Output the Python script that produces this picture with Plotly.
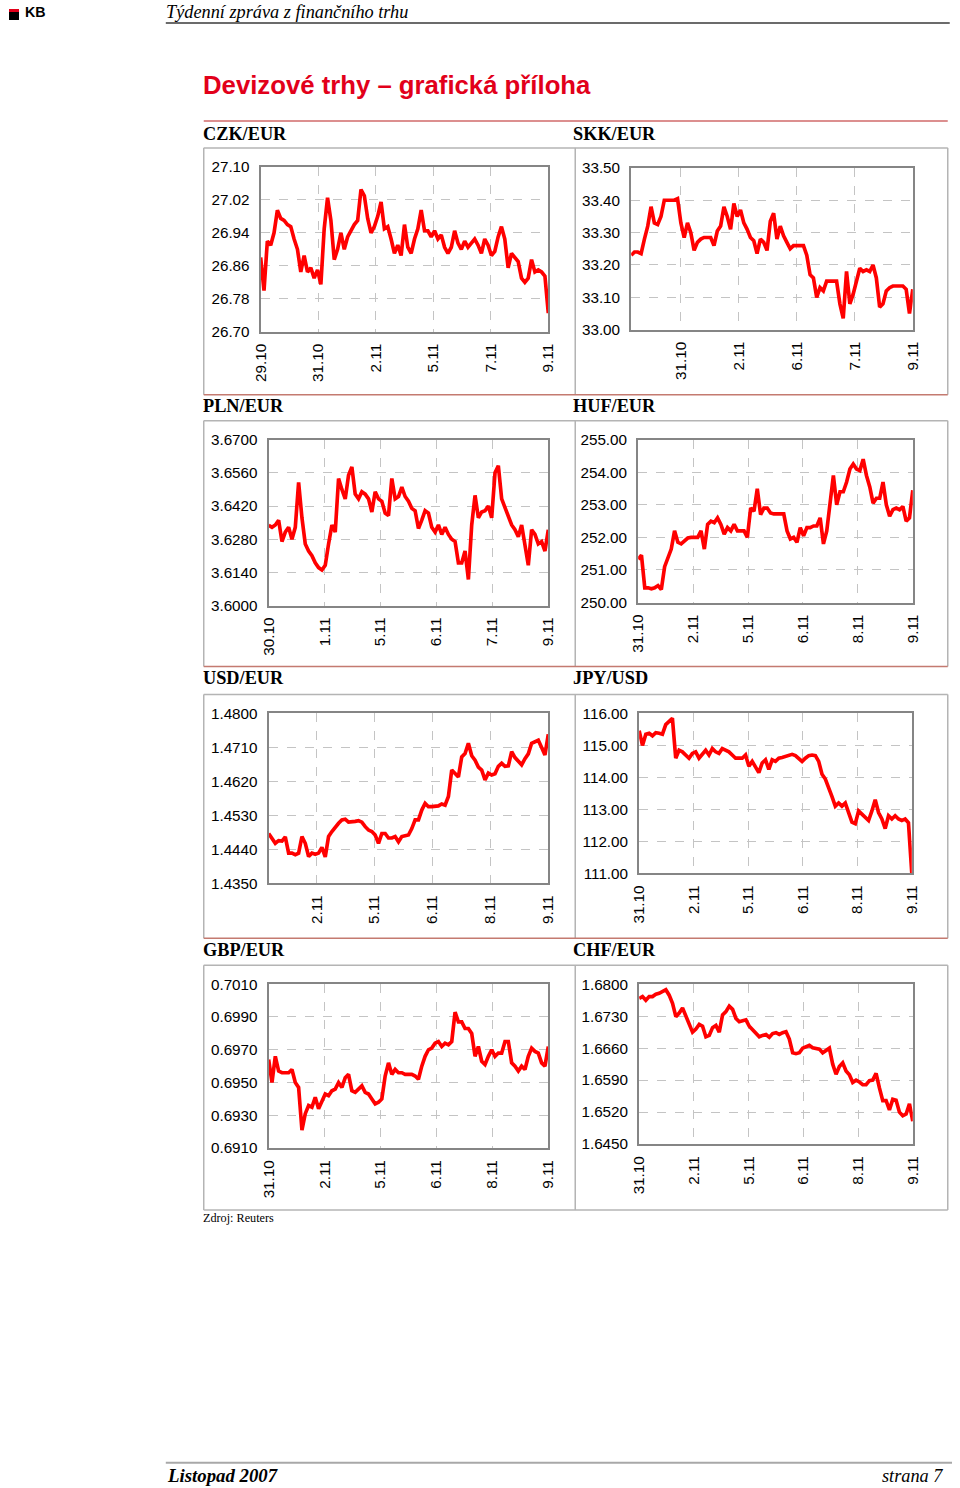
import numpy as np
import plotly.graph_objects as go

# The figure is 960x1488; the captured page carries an 8px border and is scaled
# back to 960x1488, so layout positions below are given in page pixels and mapped.
W, H = 960, 1488
OFF = 8
SX = (W + 2 * OFF) / W
SY = (H + 2 * OFF) / H
K = SX  # size factor for fonts / widths

# ---------------- data ----------------
CZK_TICKS = ["29.10", "31.10", "2.11", "5.11", "7.11", "9.11"]
CZK_Y = [26.70, 26.78, 26.86, 26.94, 27.02, 27.10]
CZK = [26.88, 26.80, 26.92, 26.91, 26.94, 26.995, 26.975, 26.97, 26.96, 26.955,
       26.925, 26.90, 26.845, 26.885, 26.845, 26.855, 26.83, 26.85, 26.815, 26.95,
       27.025, 26.97, 26.875, 26.90, 26.94, 26.90, 26.93, 26.945, 26.96, 26.97,
       27.045, 27.03, 26.975, 26.94, 26.955, 26.98, 27.015, 26.95, 26.955, 26.925,
       26.89, 26.91, 26.885, 26.96, 26.905, 26.89, 26.925, 26.95, 26.995, 26.945,
       26.945, 26.93, 26.945, 26.925, 26.935, 26.905, 26.89, 26.905, 26.945, 26.915,
       26.90, 26.92, 26.905, 26.915, 26.925, 26.91, 26.89, 26.925, 26.91, 26.885,
       26.895, 26.93, 26.955, 26.925, 26.855, 26.89, 26.88, 26.87, 26.83, 26.82,
       26.83, 26.875, 26.845, 26.85, 26.845, 26.835, 26.745]

SKK_TICKS = ["31.10", "2.11", "6.11", "7.11", "9.11"]
SKK_Y = [33.00, 33.10, 33.20, 33.30, 33.40, 33.50]
SKK = [33.23, 33.24, 33.24, 33.235, 33.28, 33.32, 33.38, 33.33, 33.325, 33.35,
       33.40, 33.40, 33.40, 33.40, 33.405, 33.33, 33.285, 33.33, 33.30, 33.245,
       33.27, 33.28, 33.285, 33.285, 33.285, 33.26, 33.305, 33.32, 33.38, 33.35,
       33.31, 33.39, 33.35, 33.37, 33.33, 33.31, 33.285, 33.275, 33.235, 33.28,
       33.27, 33.245, 33.335, 33.36, 33.28, 33.32, 33.29, 33.27, 33.25, 33.26,
       33.26, 33.26, 33.26, 33.23, 33.17, 33.16, 33.10, 33.13, 33.12, 33.15,
       33.15, 33.15, 33.15, 33.08, 33.035, 33.18, 33.08, 33.11, 33.15, 33.19,
       33.18, 33.185, 33.18, 33.20, 33.16, 33.07, 33.08, 33.12, 33.13, 33.135,
       33.135, 33.135, 33.135, 33.125, 33.05, 33.125]

PLN_TICKS = ["30.10", "1.11", "5.11", "6.11", "7.11", "9.11"]
PLN_Y = [3.6000, 3.6140, 3.6280, 3.6420, 3.6560, 3.6700]
PLN = [3.6339, 3.633, 3.634, 3.636, 3.627, 3.631, 3.633, 3.628, 3.633, 3.652,
       3.637, 3.626, 3.623, 3.621, 3.618, 3.616, 3.615, 3.617, 3.626, 3.634,
       3.631, 3.6536, 3.649, 3.645, 3.655, 3.6585, 3.647, 3.645, 3.648, 3.647,
       3.645, 3.6395, 3.648, 3.645, 3.644, 3.639, 3.638, 3.6536, 3.645, 3.646,
       3.650, 3.646, 3.644, 3.641, 3.640, 3.6325, 3.636, 3.640, 3.639, 3.633,
       3.631, 3.634, 3.630, 3.633, 3.630, 3.628, 3.627, 3.618, 3.618, 3.623,
       3.611, 3.634, 3.6465, 3.637, 3.6395, 3.640, 3.642, 3.637, 3.656, 3.659,
       3.645, 3.641, 3.638, 3.634, 3.632, 3.629, 3.634, 3.625, 3.617, 3.632,
       3.630, 3.626, 3.627, 3.623, 3.632]

HUF_TICKS = ["31.10", "2.11", "5.11", "6.11", "8.11", "9.11"]
HUF_Y = [250.0, 251.0, 252.0, 253.0, 254.0, 255.0]
HUF = [251.33, 251.45, 250.45, 250.45, 250.42, 250.45, 250.52, 250.40, 251.10, 251.35,
       251.64, 252.20, 251.85, 251.80, 251.90, 251.98, 252.00, 252.00, 252.00, 252.20,
       251.64, 252.40, 252.50, 252.45, 252.60, 252.40, 252.10, 252.30, 252.20, 252.40,
       252.20, 252.20, 252.20, 252.00, 252.90, 252.80, 253.49, 252.70, 252.90, 252.90,
       252.75, 252.72, 252.72, 252.72, 252.72, 252.20, 251.95, 252.00, 251.85, 252.30,
       252.05, 252.30, 252.30, 252.35, 252.35, 252.60, 251.80, 252.20, 253.10, 253.90,
       253.00, 253.40, 253.40, 253.70, 254.10, 254.25, 254.10, 254.05, 254.40, 253.90,
       253.55, 253.05, 253.20, 253.20, 253.70, 253.00, 252.65, 252.85, 252.90, 252.85,
       252.95, 252.50, 252.60, 253.45]

USD_TICKS = ["2.11", "5.11", "6.11", "8.11", "9.11"]
USD_Y = [1.4350, 1.4440, 1.4530, 1.4620, 1.4710, 1.4800]
USD = [1.4482, 1.4469, 1.4456, 1.4463, 1.4462, 1.4473, 1.4430, 1.4430, 1.4426, 1.4430,
       1.4474, 1.4456, 1.4421, 1.4430, 1.4427, 1.4430, 1.4445, 1.4420, 1.4474, 1.4487,
       1.4500, 1.4509, 1.4518, 1.4520, 1.4512, 1.4512, 1.4514, 1.4516, 1.4512, 1.4500,
       1.4491, 1.4487, 1.4478, 1.4456, 1.4482, 1.4482, 1.4470, 1.4470, 1.4474, 1.4460,
       1.4474, 1.4476, 1.4478, 1.4495, 1.4518, 1.4518, 1.4544, 1.4562, 1.4553, 1.4553,
       1.4555, 1.4555, 1.4560, 1.4557, 1.4580, 1.4650, 1.4641, 1.4632, 1.4685, 1.4694,
       1.4721, 1.4688, 1.4676, 1.4658, 1.4650, 1.4624, 1.4642, 1.4637, 1.4640, 1.4660,
       1.4668, 1.4660, 1.4661, 1.4699, 1.4683, 1.4672, 1.4664, 1.4680, 1.4693, 1.4721,
       1.4725, 1.4729, 1.4710, 1.4690, 1.4745]

JPY_TICKS = ["31.10", "2.11", "5.11", "6.11", "8.11", "9.11"]
JPY_Y = [111.0, 112.0, 113.0, 114.0, 115.0, 116.0]
JPY = [115.46, 115.00, 115.35, 115.38, 115.30, 115.40, 115.38, 115.35, 115.65, 115.75,
       115.85, 114.60, 114.85, 114.80, 114.70, 114.60, 114.75, 114.80, 114.60, 114.75,
       114.85, 114.70, 114.90, 114.80, 114.75, 114.90, 114.85, 114.80, 114.70, 114.60,
       114.60, 114.60, 114.70, 114.35, 114.50, 114.30, 114.15, 114.45, 114.55, 114.25,
       114.55, 114.50, 114.60, 114.62, 114.66, 114.70, 114.72, 114.68, 114.60, 114.50,
       114.60, 114.68, 114.70, 114.68, 114.50, 114.10, 113.95, 113.70, 113.40, 113.10,
       113.20, 113.10, 113.20, 112.90, 112.60, 112.55, 112.95, 112.85, 112.75, 112.65,
       112.95, 113.30, 112.90, 112.70, 112.40, 112.80, 112.70, 112.80, 112.70, 112.65,
       112.70, 112.58, 111.00]

GBP_TICKS = ["31.10", "2.11", "5.11", "6.11", "8.11", "9.11"]
GBP_Y = [0.6910, 0.6930, 0.6950, 0.6970, 0.6990, 0.7010]
GBP = [0.6964, 0.6950, 0.6966, 0.6957, 0.6956, 0.6956, 0.6956, 0.6958, 0.6950, 0.6947,
       0.6921, 0.6931, 0.6936, 0.6935, 0.6941, 0.6934, 0.6938, 0.6943, 0.6942, 0.6945,
       0.6946, 0.6950, 0.6947, 0.6953, 0.6955, 0.6945, 0.6944, 0.6946, 0.6948, 0.6944,
       0.6943, 0.6940, 0.6937, 0.6938, 0.6940, 0.6954, 0.6962, 0.6955, 0.6958, 0.6956,
       0.6956, 0.6955, 0.6955, 0.6955, 0.6954, 0.6952, 0.6960, 0.6966, 0.6970, 0.6971,
       0.6974, 0.6975, 0.6972, 0.6974, 0.6973, 0.6975, 0.6993, 0.6987, 0.6987, 0.6983,
       0.6983, 0.6980, 0.6966, 0.6972, 0.6963, 0.6961, 0.6966, 0.6970, 0.6966, 0.6968,
       0.6968, 0.6975, 0.6975, 0.6962, 0.6960, 0.6957, 0.6960, 0.6958, 0.6966, 0.6971,
       0.6969, 0.6968, 0.6962, 0.6960, 0.6972]

CHF_TICKS = ["31.10", "2.11", "5.11", "6.11", "8.11", "9.11"]
CHF_Y = [1.6450, 1.6520, 1.6590, 1.6660, 1.6730, 1.6800]
CHF = [1.6769, 1.6773, 1.6765, 1.6773, 1.6773, 1.6778, 1.6780, 1.6783, 1.6788, 1.6776,
       1.6758, 1.6729, 1.6737, 1.6748, 1.6730, 1.6710, 1.6695, 1.6702, 1.6712, 1.6708,
       1.6685, 1.6688, 1.6705, 1.6710, 1.6695, 1.6733, 1.6740, 1.6752, 1.6745, 1.6725,
       1.6718, 1.6720, 1.6722, 1.6708, 1.6700, 1.6693, 1.6685, 1.6688, 1.6690, 1.6684,
       1.6692, 1.6694, 1.6690, 1.6694, 1.6696, 1.6680, 1.6650, 1.6648, 1.6650, 1.6660,
       1.6664, 1.6666, 1.6661, 1.6660, 1.6658, 1.6650, 1.6654, 1.6660, 1.6625, 1.6603,
       1.6620, 1.6628, 1.6610, 1.6602, 1.6585, 1.6590, 1.6586, 1.6580, 1.6580, 1.6589,
       1.6590, 1.6605, 1.6573, 1.6545, 1.6545, 1.6525, 1.6548, 1.6546, 1.6520, 1.6512,
       1.6516, 1.6538, 1.6500]

# (name, values, x-start, tick labels, y ticks, y format, plot box in page px [x0,x1,y0,y1])
charts = [
    ("CZK/EUR", CZK, 0.0, CZK_TICKS, CZK_Y, ".2f", (260, 548, 166, 331)),
    ("SKK/EUR", SKK, -0.86, SKK_TICKS, SKK_Y, ".2f", (631, 913, 167, 329)),
    ("PLN/EUR", PLN, 0.0, PLN_TICKS, PLN_Y, ".4f", (268, 548, 439, 605)),
    ("HUF/EUR", HUF, 0.0, HUF_TICKS, HUF_Y, ".2f", (638, 913, 439, 602)),
    ("USD/EUR", USD, -0.828, USD_TICKS, USD_Y, ".4f", (268, 548, 713, 883)),
    ("JPY/USD", JPY, 0.0, JPY_TICKS, JPY_Y, ".2f", (639, 912, 713, 873)),
    ("GBP/EUR", GBP, 0.0, GBP_TICKS, GBP_Y, ".4f", (268, 548, 984, 1148)),
    ("CHF/EUR", CHF, 0.0, CHF_TICKS, CHF_Y, ".4f", (639, 913, 984, 1144)),
]

FONT = "Liberation Sans, Arial, sans-serif"
SERIF = "Liberation Serif, Times New Roman, serif"

def px(x):
    return min(max((x - OFF) * SX / W, 0.0), 1.0)

def py(y):
    return min(max(1 - (y - OFF) * SY / H, 0.0), 1.0)

fig = go.Figure()
layout = {}
for i, (name, vals, x0, ticks, yt, yfmt, box) in enumerate(charts):
    k = "" if i == 0 else str(i + 1)
    x_end = len(ticks) - 1
    xs = np.linspace(x0, x_end, len(vals))  # regular sampling times
    fig.add_trace(go.Scatter(x=xs, y=vals, mode="lines",
                             line=dict(color="#ff0000", width=3.6 * K),
                             xaxis="x" + k, yaxis="y" + k, showlegend=False,
                             hoverinfo="skip"))
    bx0, bx1, by0, by1 = box
    common = dict(showline=True, mirror=True, linecolor="#858585", linewidth=2 * K,
                  showgrid=True, gridcolor="#c4c4c4", griddash="dash", gridwidth=1,
                  zeroline=False, ticks="", fixedrange=True,
                  tickfont=dict(family=FONT, size=15 * K, color="#000000"))
    layout["xaxis" + k] = dict(common, domain=[px(bx0), px(bx1)],
                               range=[x0, x_end], anchor="y" + k,
                               tickmode="array", tickvals=list(range(len(ticks))),
                               ticktext=ticks, tickangle=-90,
                               ticklabelstandoff=4)
    layout["yaxis" + k] = dict(common, domain=[py(by1), py(by0)],
                               range=[yt[0], yt[-1]], anchor="x" + k,
                               tickmode="array", tickvals=yt, tickformat=yfmt,
                               ticklabelstandoff=6)

def hline(y, x0, x1, color, width):
    return dict(type="line", xref="paper", yref="paper", x0=px(x0), x1=px(x1),
                y0=py(y), y1=py(y), line=dict(color=color, width=width * K))

def vline(x, y0, y1, color, width):
    return dict(type="line", xref="paper", yref="paper", x0=px(x), x1=px(x),
                y0=py(y0), y1=py(y1), line=dict(color=color, width=width * K))

shapes = []
shapes.append(hline(22, 165, 950, "#3a3a3a", 1.5))
shapes.append(hline(120, 203, 948, "#d06a6a", 1.5))
# logo
shapes.append(dict(type="rect", xref="paper", yref="paper", x0=px(2), x1=px(18),
                   y0=py(11), y1=py(3), fillcolor="#e2001a", line=dict(width=0)))
shapes.append(dict(type="rect", xref="paper", yref="paper", x0=px(2), x1=px(18),
                   y0=py(19), y1=py(11), fillcolor="#000000", line=dict(width=0)))
rows = [(147, 394), (420, 666), (694, 938), (965, 1210)]
for r, (t, b) in enumerate(rows):
    shapes.append(hline(t, 203, 948, "#b4b4b4", 1.5))
    shapes.append(vline(203, t, b, "#b4b4b4", 1.5))
    shapes.append(vline(575, t, b, "#b4b4b4", 1.5))
    shapes.append(vline(948, t, b, "#b4b4b4", 1.5))
    shapes.append(hline(b, 203, 948, "#c47a70" if r < 3 else "#b4b4b4", 1.5))
shapes.append(hline(1463, 165, 958, "#a8a8a8", 2))

ann = []
def text(x, y, s, size, family=FONT, color="#000000", xanchor="left", bold=False, italic=False):
    if bold:
        s = "<b>" + s + "</b>"
    if italic:
        s = "<i>" + s + "</i>"
    ann.append(dict(x=px(x), y=py(y), xref="paper", yref="paper", text=s,
                    showarrow=False, xanchor=xanchor, yanchor="middle",
                    font=dict(family=family, size=size * K, color=color)))

text(22, 11, "KB", 14, bold=True)
text(163, 11, "Týdenní zpráva z finančního trhu", 18, family=SERIF, italic=True)
text(200, 84, "Devizové trhy – grafická příloha", 25.3, color="#e2001a", bold=True)
label_pos = [(200, 133), (571, 133), (200, 405), (571, 405),
             (200, 678), (571, 678), (200, 950), (571, 950)]
for (name, *_), (lx, ly) in zip(charts, label_pos):
    text(lx, ly, name, 18, family=SERIF, bold=True)
text(200, 1218, "Zdroj: Reuters", 12, family=SERIF)
text(164, 1476, "Listopad 2007", 18.5, family=SERIF, bold=True, italic=True)
text(945, 1476, "strana 7", 18, family=SERIF, italic=True, xanchor="right")

fig.update_layout(width=W, height=H, margin=dict(l=0, r=0, t=0, b=0, pad=0),
                  paper_bgcolor="#ffffff", plot_bgcolor="#ffffff",
                  shapes=shapes, annotations=ann, **layout)
fig.write_html("out.html")
